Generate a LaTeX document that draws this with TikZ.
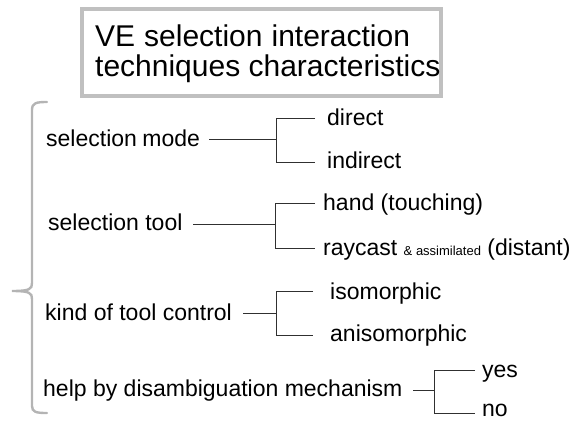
\documentclass[tikz,border=0pt]{standalone}
\usepackage{fontspec}
\setmainfont{Liberation Sans}
\definecolor{boxgray}{HTML}{C0C0C0}
\definecolor{bracegray}{HTML}{B4B4B4}
\definecolor{linegray}{HTML}{303030}
\begin{document}
\begin{tikzpicture}[x=1pt,y=-1pt,
  lbl/.style={anchor=base west,inner sep=0pt,font=\fontsize{23}{27}\selectfont},
  ttl/.style={anchor=base west,inner sep=0pt,font=\fontsize{30}{30}\selectfont},
  conn/.style={draw=linegray,line width=0.9pt}]
\useasboundingbox (0,0) rectangle (585,420);
% title box
\draw[boxgray,line width=3.5pt] (82,9) rectangle (441,96);
\node[ttl] (t1) at (95,47) {VE\hspace{9pt}selection\hspace{9pt}interaction};
\node[ttl] (t2) at (95,76) {techniques characteristics};
% brace
\draw[bracegray,line width=2.4pt,line cap=round]
  (47,102) .. controls (36,102) and (32,103) .. (32,110) -- (32,283)
  .. controls (32,289) and (30,291) .. (12,291)
  .. controls (30,291) and (32,293) .. (32,299) -- (32,406)
  .. controls (32,412) and (36,413) .. (47,413);
% item 1
\node[lbl] (m1) at (46,146) {selection\hspace{-1pt} mode};
\node[lbl] (a1) at (327,125) {direct};
\node[lbl] (b1) at (327,168) {indirect};
\coordinate (s1) at (209,139); \coordinate (j1) at (276,139);
\coordinate (ja1) at (276,118); \coordinate (jb1) at (276,162);
\coordinate (ea1) at (315,118); \coordinate (eb1) at (315,162);
\draw[conn] (s1) -- (j1);
\draw[conn] (ea1) -- (ja1) -- (jb1) -- (eb1);
% item 2
\node[lbl] (m2) at (48,230) {selection tool};
\node[lbl] (a2) at (323,210) {hand (touching)};
\node[lbl] (b2) at (323,255) {raycast {\fontsize{13}{15}\selectfont \& assimilated} (distant)};
\coordinate (s2) at (193,224); \coordinate (j2) at (275,224);
\coordinate (ja2) at (275,203); \coordinate (jb2) at (275,248);
\coordinate (ea2) at (315,203); \coordinate (eb2) at (315,248);
\draw[conn] (s2) -- (j2);
\draw[conn] (ea2) -- (ja2) -- (jb2) -- (eb2);
% item 3
\node[lbl] (m3) at (45,320) {kind of tool control};
\node[lbl] (a3) at (330,299) {isomorphic};
\node[lbl] (b3) at (330,341) {anisomorphic};
\coordinate (s3) at (243,313); \coordinate (j3) at (276,313);
\coordinate (ja3) at (276,291); \coordinate (jb3) at (276,335);
\coordinate (ea3) at (313,291); \coordinate (eb3) at (313,335);
\draw[conn] (s3) -- (j3);
\draw[conn] (ea3) -- (ja3) -- (jb3) -- (eb3);
% item 4
\node[lbl] (m4) at (43,396) {help by disambiguation mechanism};
\node[lbl] (a4) at (482,377) {yes};
\node[lbl] (b4) at (482,416) {no};
\coordinate (s4) at (413,390); \coordinate (j4) at (434,390);
\coordinate (ja4) at (434,370); \coordinate (jb4) at (434,413);
\coordinate (ea4) at (475,370); \coordinate (eb4) at (475,413);
\draw[conn] (s4) -- (j4);
\draw[conn] (ea4) -- (ja4) -- (jb4) -- (eb4);
\end{tikzpicture}
\end{document}
